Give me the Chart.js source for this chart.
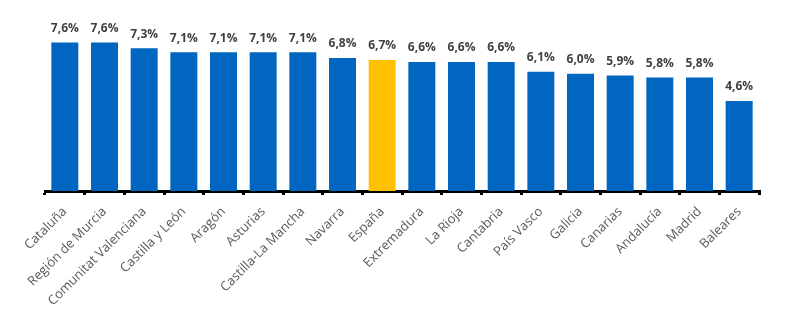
<!DOCTYPE html>
<html>
<head>
<meta charset="utf-8">
<script src="https://cdn.jsdelivr.net/npm/chart.js@4"></script>
<style>
  html, body { margin: 0; padding: 0; background: #fff; }
  .wrap { width: 811px; height: 325px; position: relative; }
</style>
</head>
<body>
<div class="wrap"><canvas class="myChart"></canvas></div>
<script>
const regiones = ["Cataluña", "Región de Murcia", "Comunitat Valenciana", "Castilla y León", "Aragón",
  "Asturias", "Castilla-La Mancha", "Navarra", "España", "Extremadura", "La Rioja", "Cantabria",
  "País Vasco", "Galicia", "Canarias", "Andalucía", "Madrid", "Baleares"];
const valores = [7.6, 7.6, 7.3, 7.1, 7.1, 7.1, 7.1, 6.8, 6.7, 6.6, 6.6, 6.6, 6.1, 6.0, 5.9, 5.8, 5.8, 4.6];
const etiquetas = ["7,6%", "7,6%", "7,3%", "7,1%", "7,1%", "7,1%", "7,1%", "6,8%", "6,7%", "6,6%",
  "6,6%", "6,6%", "6,1%", "6,0%", "5,9%", "5,8%", "5,8%", "4,6%"];

const colores = regiones.map(r => r === "España" ? "#FFC000" : "#0066C0");

// etiquetas encima de cada barra
const etiquetasPlugin = {
  id: "etiquetas",
  afterDatasetsDraw(chart) {
    const ctx = chart.ctx;
    const meta = chart.getDatasetMeta(0);
    ctx.save();
    ctx.font = "bold 12px 'Open Sans'";
    ctx.fillStyle = "#404040";
    ctx.textAlign = "center";
    ctx.textBaseline = "bottom";
    meta.data.forEach((bar, i) => {
      ctx.fillText(etiquetas[i], bar.x, bar.y - 8);
    });
    ctx.restore();
  }
};

const ctx = document.querySelector(".myChart").getContext("2d");
const myChart = new Chart(ctx, {
  type: "bar",
  data: {
    labels: regiones,
    datasets: [
      {
        data: valores,
        backgroundColor: colores,
        borderWidth: 0,
        categoryPercentage: 1,
        barPercentage: 0.68,
      },
    ],
  },
  options: {
    responsive: true,
    maintainAspectRatio: false,
    animation: false,
    layout: { padding: { left: 45, right: 52, top: 15, bottom: 0 } },
    plugins: {
      legend: { display: false },
      tooltip: { enabled: false },
    },
    scales: {
      x: {
        offset: true,
        border: { display: true, color: "#000", width: 3 },
        grid: {
          display: true,
          offset: true,
          drawOnChartArea: false,
          drawTicks: true,
          tickLength: 4,
          color: "#000",
          lineWidth: 3,
        },
        ticks: {
          minRotation: 45,
          maxRotation: 45,
          padding: 9,
          color: "#595959",
          font: { family: "'Open Sans'", size: 13 },
        },
        afterFit(scale) { scale.height = 134; },
      },
      y: {
        display: false,
        beginAtZero: true,
        min: 0,
        max: 9,
      },
    },
  },
  plugins: [etiquetasPlugin],
});
</script>
</body>
</html>
